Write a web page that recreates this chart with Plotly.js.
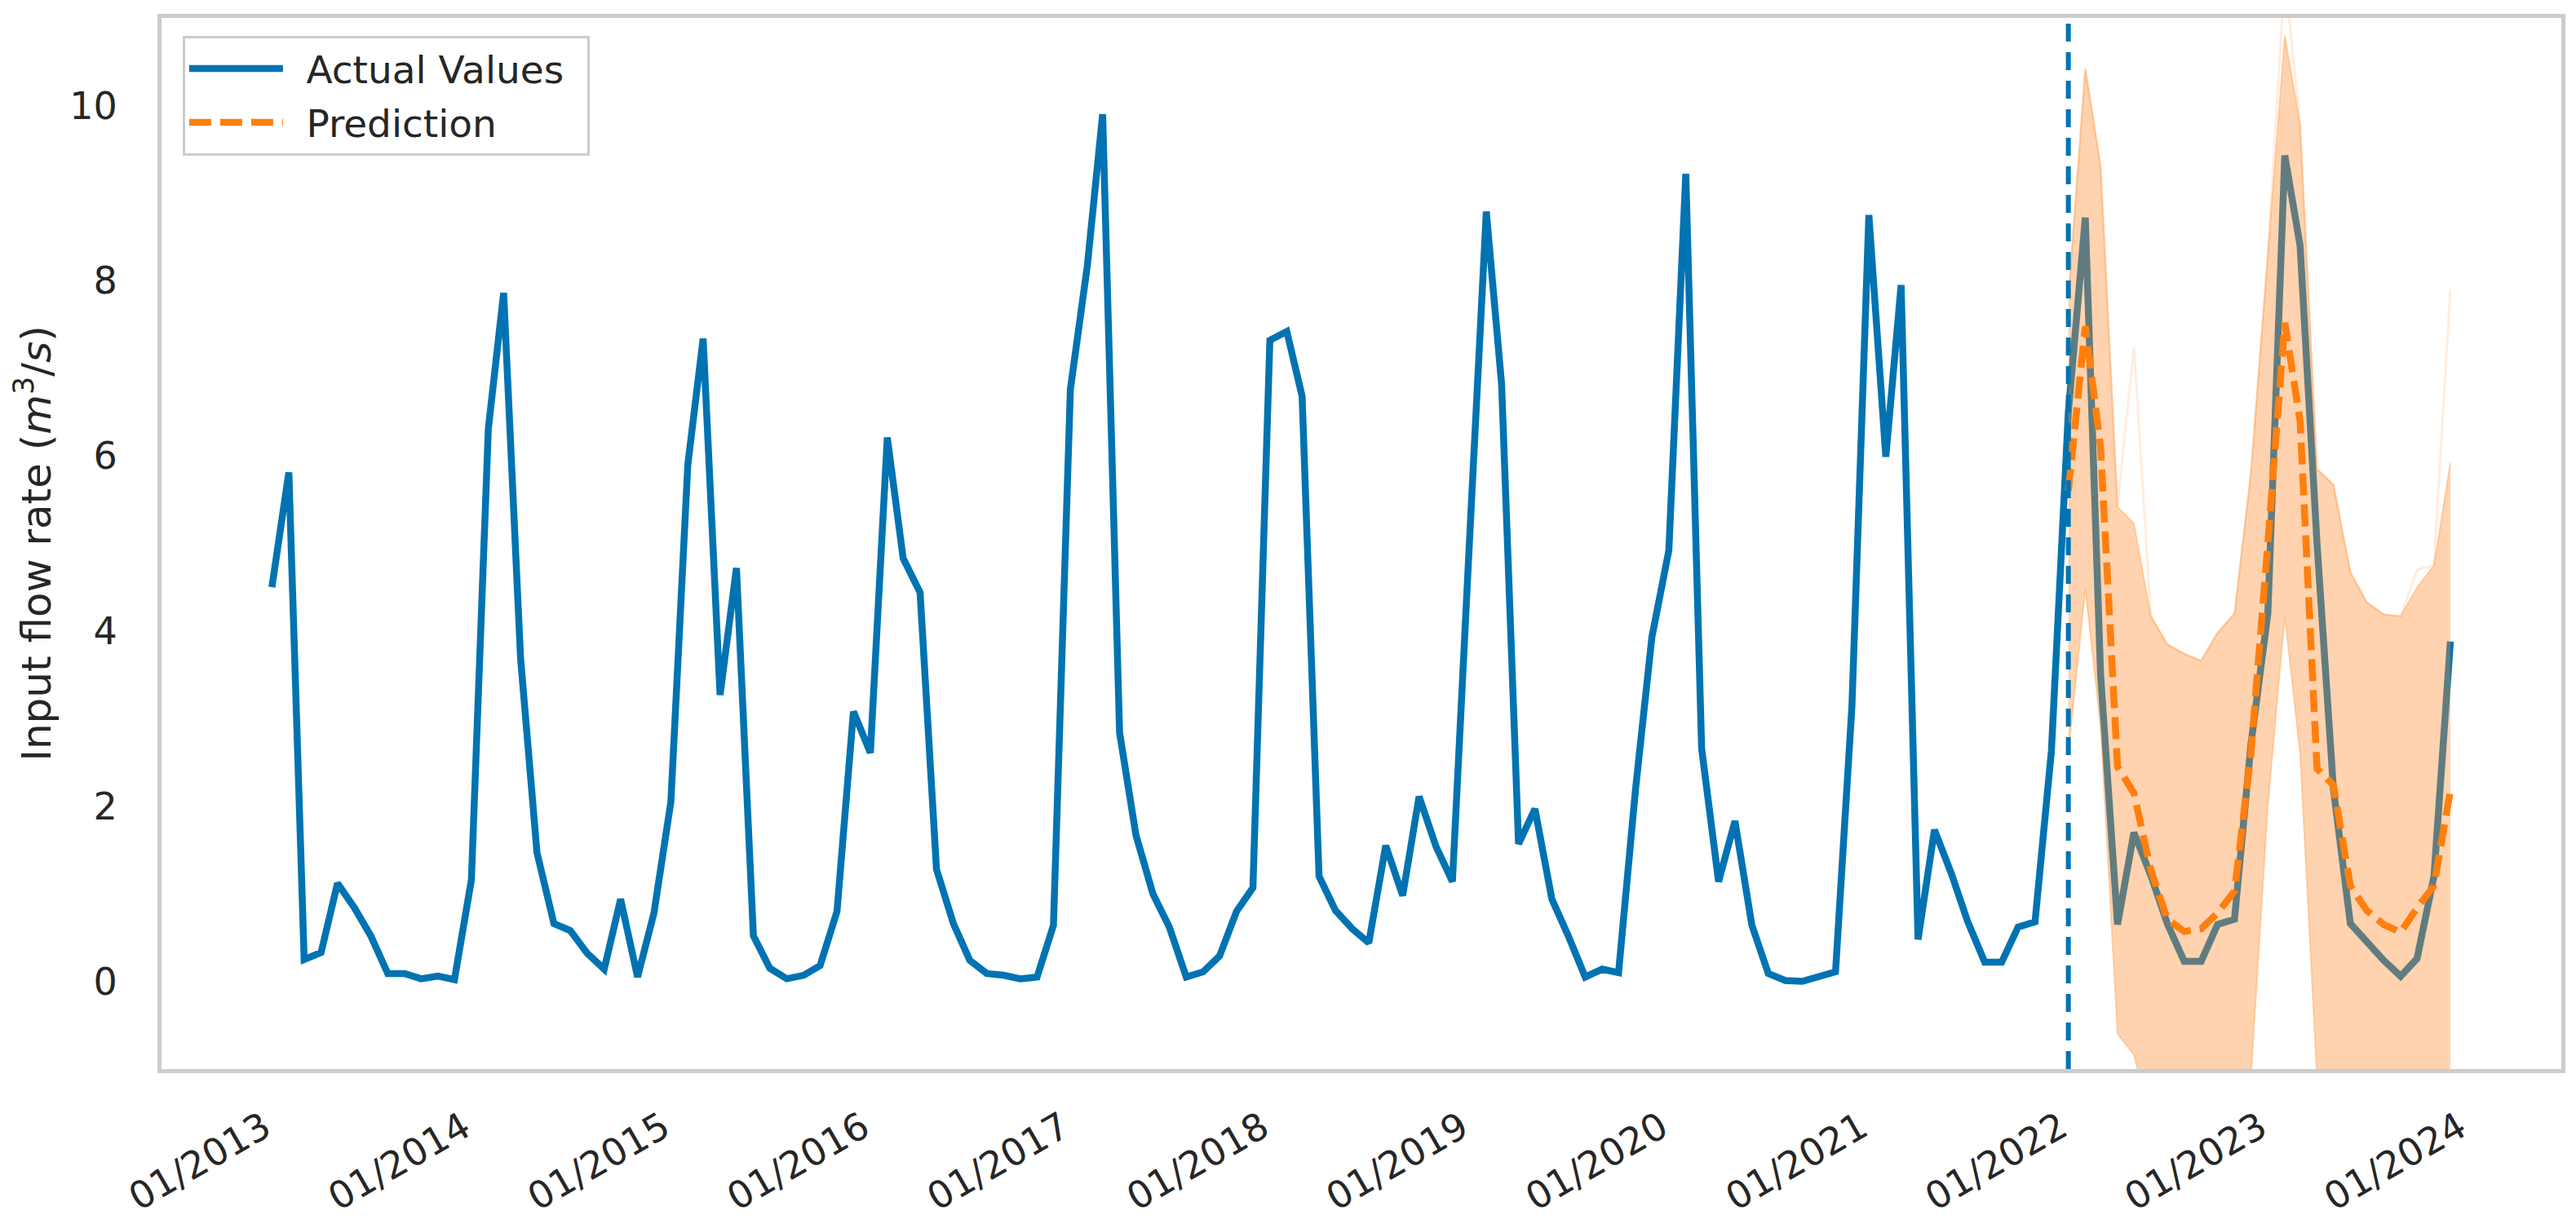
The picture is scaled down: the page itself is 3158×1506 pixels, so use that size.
<!DOCTYPE html>
<html>
<head>
<meta charset="utf-8">
<script src="https://cdn.plot.ly/plotly-3.0.1.min.js"></script>
<style>
html, body { margin: 0; padding: 0; background: #ffffff; }
#chart { width: 3158px; height: 1506px; }
</style>
</head>
<body>
<div id="chart"></div>
<script>
// ---------------- data ----------------
const actualStart = '2013-01';   // first month of the observed series (mid-month stamps)
const actualValues = [
  4.50, 5.81, 0.25, 0.33, 1.12, 0.84, 0.52, 0.09, 0.09, 0.03, 0.06, 0.02,
  1.16, 6.31, 7.86, 3.69, 1.47, 0.66, 0.58, 0.32, 0.14, 0.94, 0.05, 0.78,
  2.05, 5.90, 7.34, 3.27, 4.72, 0.52, 0.15, 0.03, 0.07, 0.18, 0.80, 3.08,
  2.61, 6.21, 4.83, 4.44, 1.28, 0.66, 0.24, 0.09, 0.07, 0.03, 0.05, 0.64,
  6.76, 8.17, 9.90, 2.84, 1.67, 1.00, 0.62, 0.05, 0.11, 0.29, 0.80, 1.07,
  7.32, 7.42, 6.68, 1.20, 0.81, 0.60, 0.44, 1.55, 0.98, 2.11, 1.54, 1.14,
  5.00, 8.79, 6.82, 1.57, 1.97, 0.94, 0.52, 0.05, 0.14, 0.10, 2.19, 3.93,
  4.92, 9.22, 2.66, 1.14, 1.83, 0.64, 0.09, 0.01, 0.00, 0.05, 0.11, 3.14,
  8.75, 5.99, 7.95, 0.48, 1.73, 1.23, 0.68, 0.22, 0.22, 0.62, 0.68, 2.63,
  6.50, 8.72, 3.50, 0.65, 1.70, 1.21, 0.66, 0.23, 0.23, 0.65, 0.71, 2.70,
  4.20, 9.43, 8.40, 5.00, 2.20, 0.66, 0.44, 0.24, 0.06, 0.26, 1.20, 3.88
];

const predictionStart = '2022-01'; // first forecast month (also the split line)
const predictionValues = [
  5.60, 7.48, 6.10, 2.45, 2.15, 1.27, 0.71, 0.57, 0.60, 0.78, 1.03, 2.60,
  5.00, 7.52, 6.40, 2.43, 2.24, 1.09, 0.81, 0.65, 0.56, 0.84, 1.09, 2.18
];
const bandUpper = [
  7.80, 10.42, 9.31, 5.42, 5.23, 4.17, 3.85, 3.74, 3.66, 3.98, 4.20, 5.80,
  8.30, 10.80, 9.78, 5.85, 5.67, 4.67, 4.33, 4.19, 4.17, 4.50, 4.75, 5.92
];
const bandLower = [
  2.60, 4.48, 2.90, -0.60, -0.84, -1.60, -1.80, -1.80, -1.80, -1.70, -1.50, -1.10,
  2.00, 4.17, 2.60, -1.10, -1.50, -1.80, -1.80, -1.80, -1.80, -1.70, -1.60, -1.50
];
const sampleMax = [
  7.80, 10.42, 9.31, 5.42, 7.25, 4.17, 3.85, 3.74, 3.66, 3.98, 4.20, 5.80,
  8.30, 11.50, 9.78, 5.85, 5.67, 4.67, 4.33, 4.19, 4.17, 4.70, 4.75, 7.90
];

const xTickDates  = ['2013-01-01','2014-01-01','2015-01-01','2016-01-01','2017-01-01','2018-01-01',
                     '2019-01-01','2020-01-01','2021-01-01','2022-01-01','2023-01-01','2024-01-01'];
const xTickLabels = ['01/2013','01/2014','01/2015','01/2016','01/2017','01/2018',
                     '01/2019','01/2020','01/2021','01/2022','01/2023','01/2024'];
const yTickValues = [0, 2, 4, 6, 8, 10];
const legendNames = ['Actual Values', 'Prediction'];

// --------------- helpers ---------------
function monthSeries(start, n) {
  const [y0, m0] = start.split('-').map(Number);
  const out = [];
  for (let i = 0; i < n; i++) {
    const t = (m0 - 1) + i;
    const y = y0 + Math.floor(t / 12);
    const m = (t % 12) + 1;
    out.push(y + '-' + String(m).padStart(2, '0') + '-15');
  }
  return out;
}

const actualDates = monthSeries(actualStart, actualValues.length);
const predDates = monthSeries(predictionStart, predictionValues.length);

const BLUE = '#0173b2';
const ORANGE = '#ff7f0e';
const BAND = 'rgba(255,140,45,0.38)';
const GAP = '\u2002';   // spacing between legend symbol and label

const traces = [
  {
    x: actualDates, y: actualValues, type: 'scatter', mode: 'lines',
    name: GAP + legendNames[0] + '\u2002', legendgroup: 'a',
    line: { color: BLUE, width: 8.5, shape: 'linear' }
  },
  {
    x: predDates, y: bandUpper, type: 'scatter', mode: 'lines',
    showlegend: false, hoverinfo: 'skip',
    line: { color: 'rgba(255,150,60,0.35)', width: 2 }
  },
  {
    x: predDates, y: bandLower, type: 'scatter', mode: 'lines',
    fill: 'tonexty', fillcolor: BAND,
    showlegend: false, hoverinfo: 'skip',
    line: { color: 'rgba(255,150,60,0.35)', width: 2 }
  },
  {
    x: predDates, y: sampleMax, type: 'scatter', mode: 'lines',
    showlegend: false, hoverinfo: 'skip',
    line: { color: 'rgba(255,160,90,0.2)', width: 3 }
  },
  {
    x: predDates, y: predictionValues, type: 'scatter', mode: 'lines',
    name: GAP + legendNames[1], legendgroup: 'b',
    line: { color: ORANGE, width: 8.5, dash: '27px,11px' }
  }
];

const layout = {
  width: 3158, height: 1506,
  margin: { l: 198, r: 18, t: 22, b: 195, pad: 0 },
  paper_bgcolor: '#ffffff', plot_bgcolor: '#ffffff',
  font: { family: 'DejaVu Sans, sans-serif', size: 46, color: '#262626' },
  showlegend: true,
  xaxis: {
    type: 'date',
    range: ['2012-06-27', '2024-07-05'],
    tickmode: 'array', tickvals: xTickDates, ticktext: xTickLabels,
    tickangle: -30,
    tickfont: { size: 46, color: '#262626' },
    ticks: '', ticklabelstandoff: 22,
    showgrid: false, zeroline: false,
    showline: true, mirror: true, linecolor: '#cccccc', linewidth: 5
  },
  yaxis: {
    range: [-1, 11],
    tickmode: 'array', tickvals: yTickValues,
    tickfont: { size: 46, color: '#262626' },
    ticks: '', ticklabelstandoff: 40,
    showgrid: false, zeroline: false,
    showline: true, mirror: true, linecolor: '#cccccc', linewidth: 5,
    title: {
      text: 'Input flow rate (<i>m</i><sup>3</sup>/<i>s</i>)',
      font: { size: 50, color: '#262626' },
      standoff: 8
    }
  },
  legend: {
    x: 0.0088, y: 0.983, xanchor: 'left', yanchor: 'top',
    bgcolor: 'rgba(255,255,255,0.85)', bordercolor: '#cccccc', borderwidth: 3,
    font: { size: 47, color: '#262626' },
    itemwidth: 115, traceorder: 'grouped', tracegroupgap: 2
  },
  shapes: [{
    type: 'line', xref: 'x', yref: 'paper',
    x0: predDates[0], x1: predDates[0], y0: 0, y1: 1,
    line: { color: BLUE, width: 6, dash: '22px,13px' }
  }]
};

Plotly.newPlot('chart', traces, layout, { staticPlot: true, displayModeBar: false });
</script>
</body>
</html>
